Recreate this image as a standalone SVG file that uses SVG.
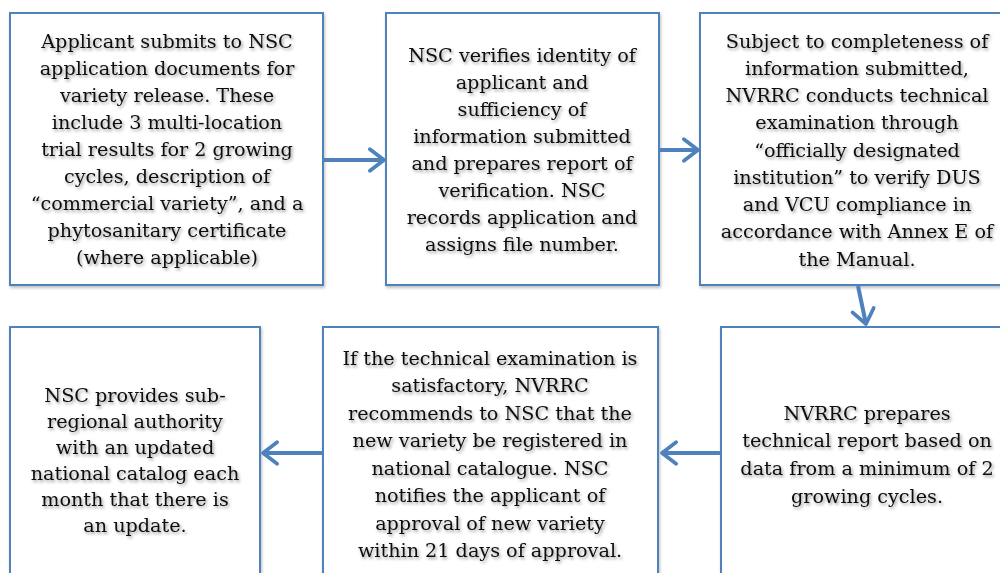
<svg xmlns="http://www.w3.org/2000/svg" width="1000" height="573" viewBox="0 0 1000 573">
<defs>
<filter id="ts" x="-10%" y="-10%" width="120%" height="130%">
<feDropShadow dx="1.5" dy="2" stdDeviation="1.8" flood-color="#000" flood-opacity="0.4"/>
</filter>
<filter id="bs" x="-5%" y="-5%" width="110%" height="110%">
<feDropShadow dx="1" dy="2" stdDeviation="1.5" flood-color="#000" flood-opacity="0.25"/>
</filter>
<marker id="ah" viewBox="0 0 12 12" refX="10.5" refY="6" markerWidth="6.5" markerHeight="6.5" orient="auto" markerUnits="strokeWidth">
<path d="M4,1 L10.5,6 L4,11" fill="none" stroke="#4F81BD" stroke-width="1.7" stroke-linecap="round" stroke-linejoin="round"/>
</marker>
<style>
.box{fill:#fff;stroke:#4F81BD;stroke-width:2;filter:url(#bs)}
.t{font-family:"DejaVu Serif","Liberation Serif",serif;font-size:19.2px;fill:#111;text-anchor:middle;filter:url(#ts)}
.c{stroke:#4F81BD;stroke-width:4;fill:none;marker-end:url(#ah)}
</style>
</defs>
<g id="n1">
<rect class="box" x="10" y="13" width="313" height="272"/>
<text class="t"><tspan x="167" y="48">Applicant submits to NSC</tspan><tspan x="167" y="75">application documents for</tspan><tspan x="167" y="102">variety release. These</tspan><tspan x="167" y="129">include 3 multi-location</tspan><tspan x="167" y="156">trial results for 2 growing</tspan><tspan x="167" y="183">cycles, description of</tspan><tspan x="167" y="210">“commercial variety”, and a</tspan><tspan x="167" y="237">phytosanitary certificate</tspan><tspan x="167" y="264">(where applicable)</tspan></text>
</g>
<g id="n2">
<rect class="box" x="386" y="13" width="273" height="272"/>
<text class="t"><tspan x="522" y="62">NSC verifies identity of</tspan><tspan x="522" y="89">applicant and</tspan><tspan x="522" y="116">sufficiency of</tspan><tspan x="522" y="143">information submitted</tspan><tspan x="522" y="170">and prepares report of</tspan><tspan x="522" y="197">verification. NSC</tspan><tspan x="522" y="224">records application and</tspan><tspan x="522" y="251">assigns file number.</tspan></text>
</g>
<g id="n3">
<rect class="box" x="700" y="13" width="314" height="272"/>
<text class="t"><tspan x="857" y="48">Subject to completeness of</tspan><tspan x="857" y="75">information submitted,</tspan><tspan x="857" y="102">NVRRC conducts technical</tspan><tspan x="857" y="129">examination through</tspan><tspan x="857" y="157">“officially designated</tspan><tspan x="857" y="184">institution” to verify DUS</tspan><tspan x="857" y="211">and VCU compliance in</tspan><tspan x="857" y="238">accordance with Annex E of</tspan><tspan x="857" y="266">the Manual.</tspan></text>
</g>
<g id="n4">
<rect class="box" x="721" y="327" width="293" height="260"/>
<text class="t"><tspan x="867" y="420">NVRRC prepares</tspan><tspan x="867" y="447">technical report based on</tspan><tspan x="867" y="475">data from a minimum of 2</tspan><tspan x="867" y="503">growing cycles.</tspan></text>
</g>
<g id="n5">
<rect class="box" x="323" y="327" width="335" height="260"/>
<text class="t"><tspan x="490" y="365">If the technical examination is</tspan><tspan x="490" y="392">satisfactory, NVRRC</tspan><tspan x="490" y="420">recommends to NSC that the</tspan><tspan x="490" y="447">new variety be registered in</tspan><tspan x="490" y="475">national catalogue. NSC</tspan><tspan x="490" y="502">notifies the applicant of</tspan><tspan x="490" y="530">approval of new variety</tspan><tspan x="490" y="557">within 21 days of approval.</tspan></text>
</g>
<g id="n6">
<rect class="box" x="10" y="327" width="250" height="260"/>
<text class="t"><tspan x="135" y="402">NSC provides sub-</tspan><tspan x="135" y="428">regional authority</tspan><tspan x="135" y="454">with an updated</tspan><tspan x="135" y="480">national catalog each</tspan><tspan x="135" y="506">month that there is</tspan><tspan x="135" y="532">an update.</tspan></text>
</g>
<g id="connectors">
<line class="c" x1="324" y1="160" x2="384" y2="160"/>
<line class="c" x1="660" y1="150" x2="698" y2="150"/>
<line class="c" x1="858" y1="286" x2="866" y2="324"/>
<line class="c" x1="720" y1="453" x2="662" y2="453"/>
<line class="c" x1="322" y1="453" x2="263" y2="453"/>
</g>
</svg>
